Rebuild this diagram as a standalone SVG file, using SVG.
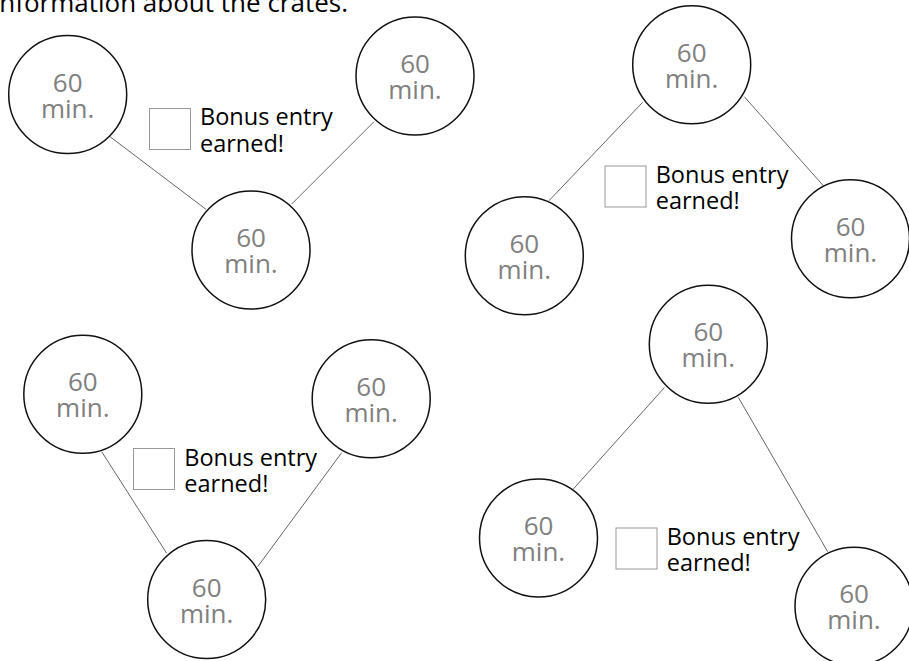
<svg xmlns="http://www.w3.org/2000/svg" width="909" height="661" viewBox="0 0 909 661">
<style>
.c{fill:#fff;stroke:#111;stroke-width:1.5}
.t{font-family:"Open Sans","Liberation Sans",sans-serif;font-size:26px;fill:#808080;text-anchor:middle}
.b{font-family:"Open Sans","Liberation Sans",sans-serif;font-size:23.5px;fill:#000}
.k{fill:#fff;stroke:#999;stroke-width:1}
.l{stroke:#666;stroke-width:1;fill:none}
.h{font-family:"Open Sans","Liberation Sans",sans-serif;font-size:26px;fill:#000;text-anchor:end}
</style>
<rect width="909" height="661" fill="#fff"/>
<text class="h" x="348" y="12">information about the crates.</text>
<g id="connectors">
<line class="l" x1="110" y1="136.7" x2="206" y2="209.3"/>
<line class="l" x1="374" y1="121.7" x2="291.7" y2="204"/>
<line class="l" x1="642.7" y1="102.3" x2="549" y2="200.7"/>
<line class="l" x1="744.3" y1="96.7" x2="823.3" y2="185.7"/>
<line class="l" x1="101.7" y1="451.7" x2="166.7" y2="553.3"/>
<line class="l" x1="341.7" y1="452.7" x2="257.7" y2="566.7"/>
<line class="l" x1="664.3" y1="387.7" x2="573.3" y2="489"/>
<line class="l" x1="738.3" y1="397.3" x2="827.7" y2="551.7"/>
</g>
<g id="n1"><circle class="c" cx="67.7" cy="94.5" r="59"/><text class="t" x="67.7" y="91.5">60</text><text class="t" x="67.7" y="117.5">min.</text></g>
<g id="n2"><circle class="c" cx="251" cy="250" r="59"/><text class="t" x="251" y="247">60</text><text class="t" x="251" y="273">min.</text></g>
<g id="n3"><circle class="c" cx="415" cy="76" r="59"/><text class="t" x="415" y="73">60</text><text class="t" x="415" y="99">min.</text></g>
<g id="bonus1"><rect class="k" x="149.5" y="108.5" width="41" height="41"/><text class="b" x="200" y="125">Bonus entry</text><text class="b" x="200" y="151.5">earned!</text></g>

<g id="n4"><circle class="c" cx="691.7" cy="64.8" r="59"/><text class="t" x="691.7" y="61.8">60</text><text class="t" x="691.7" y="87.8">min.</text></g>
<g id="n5"><circle class="c" cx="524.3" cy="255.8" r="59"/><text class="t" x="524.3" y="252.8">60</text><text class="t" x="524.3" y="278.8">min.</text></g>
<g id="n6"><circle class="c" cx="850.5" cy="238.7" r="59"/><text class="t" x="850.5" y="235.7">60</text><text class="t" x="850.5" y="261.7">min.</text></g>
<g id="bonus2"><rect class="k" x="605" y="166" width="41" height="41"/><text class="b" x="655.7" y="182.7">Bonus entry</text><text class="b" x="655.7" y="208.5">earned!</text></g>

<g id="n7"><circle class="c" cx="82.8" cy="394.2" r="59"/><text class="t" x="82.8" y="391.2">60</text><text class="t" x="82.8" y="417.2">min.</text></g>
<g id="n8"><circle class="c" cx="371.2" cy="398.8" r="59"/><text class="t" x="371.2" y="395.8">60</text><text class="t" x="371.2" y="421.8">min.</text></g>
<g id="n9"><circle class="c" cx="206.7" cy="599.5" r="59"/><text class="t" x="206.7" y="596.5">60</text><text class="t" x="206.7" y="622.5">min.</text></g>
<g id="bonus3"><rect class="k" x="133.5" y="448.5" width="41" height="41"/><text class="b" x="184.3" y="465.7">Bonus entry</text><text class="b" x="184.3" y="491.7">earned!</text></g>

<g id="n10"><circle class="c" cx="708.3" cy="344.3" r="59"/><text class="t" x="708.3" y="341.3">60</text><text class="t" x="708.3" y="367.3">min.</text></g>
<g id="n11"><circle class="c" cx="538.5" cy="538" r="59"/><text class="t" x="538.5" y="535">60</text><text class="t" x="538.5" y="561">min.</text></g>
<g id="n12"><circle class="c" cx="854" cy="606.3" r="59"/><text class="t" x="854" y="603.3">60</text><text class="t" x="854" y="629.3">min.</text></g>
<g id="bonus4"><rect class="k" x="616" y="528" width="41" height="41"/><text class="b" x="666.7" y="545">Bonus entry</text><text class="b" x="666.7" y="570.5">earned!</text></g>
</svg>
